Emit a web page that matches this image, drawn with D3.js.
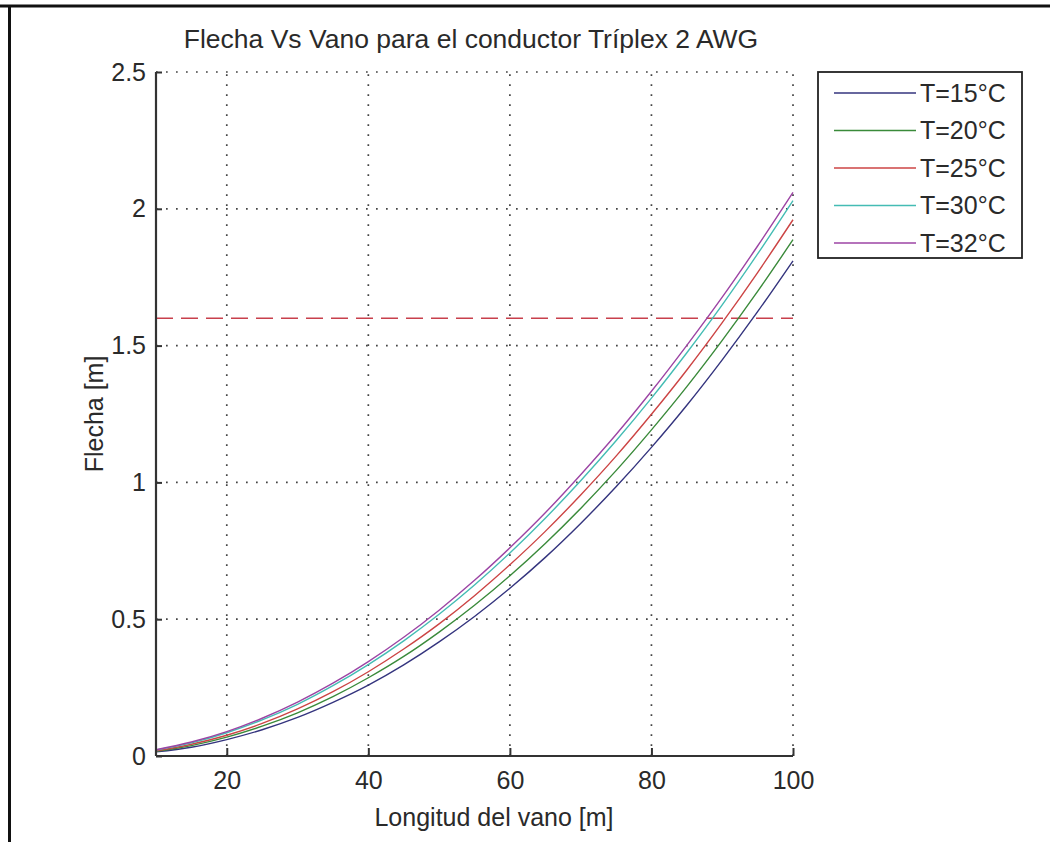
<!DOCTYPE html>
<html>
<head>
<meta charset="utf-8">
<script src="https://cdn.jsdelivr.net/npm/d3@7"></script>
<style>
  html, body { margin: 0; padding: 0; background: #fff; }
  svg { display: block; }
  text { font-family: "Liberation Sans", Arial, sans-serif; fill: #2a2a2a; }
</style>
</head>
<body>
<svg id="chart" width="1050" height="842"></svg>
<script>
// ---- data ----
const spans = [10, 15, 20, 25, 30, 35, 40, 45, 50, 55, 60, 65, 70, 75, 80, 85, 90, 95, 100];
const sagT15 = [0.015, 0.032, 0.060, 0.096, 0.141, 0.196, 0.259, 0.333, 0.417, 0.510, 0.613, 0.726, 0.850, 0.984, 1.128, 1.282, 1.448, 1.624, 1.810];
const sagT20 = [0.017, 0.038, 0.069, 0.109, 0.158, 0.217, 0.286, 0.364, 0.453, 0.551, 0.659, 0.777, 0.905, 1.043, 1.192, 1.350, 1.519, 1.698, 1.887];
const sagT25 = [0.019, 0.043, 0.076, 0.119, 0.172, 0.235, 0.308, 0.391, 0.483, 0.586, 0.699, 0.821, 0.954, 1.096, 1.249, 1.411, 1.584, 1.767, 1.960];
const sagT30 = [0.022, 0.048, 0.085, 0.132, 0.189, 0.257, 0.334, 0.421, 0.518, 0.625, 0.742, 0.869, 1.006, 1.152, 1.308, 1.474, 1.649, 1.835, 2.030];
const sagT32 = [0.023, 0.051, 0.089, 0.138, 0.197, 0.266, 0.345, 0.434, 0.533, 0.642, 0.761, 0.889, 1.028, 1.175, 1.333, 1.501, 1.677, 1.864, 2.060];
const seriesNames = ["T=15°C", "T=20°C", "T=25°C", "T=30°C", "T=32°C"];
const seriesColors = ["#34347e", "#3a8a3a", "#cc4444", "#44bcb4", "#9c44a4"];
const limitSag = 1.6;
const xTicks = [20, 40, 60, 80, 100];
const yTicks = [0, 0.5, 1, 1.5, 2, 2.5];
const titleText = "Flecha Vs Vano para el conductor Tríplex 2 AWG";
const xLabelText = "Longitud del vano [m]";
const yLabelText = "Flecha [m]";

const allSeries = [sagT15, sagT20, sagT25, sagT30, sagT32];

// ---- layout ----
const svg = d3.select("#chart");
const plot = { left: 156, right: 793, top: 72, bottom: 756 };

const x = d3.scaleLinear().domain([10, 100]).range([plot.left, plot.right]);
const y = d3.scaleLinear().domain([0, 2.5]).range([plot.bottom, plot.top]);

// outer frame (top and left edges of the screenshot)
svg.append("line").attr("x1", 0).attr("x2", 1050).attr("y1", 6).attr("y2", 6)
  .attr("stroke", "#111").attr("stroke-width", 3);
svg.append("line").attr("x1", 9.5).attr("x2", 9.5).attr("y1", 5).attr("y2", 842)
  .attr("stroke", "#111").attr("stroke-width", 3);

// grid (dotted)
const gridStyle = g => g.attr("stroke", "#444").attr("stroke-width", 1.7).attr("stroke-dasharray", "1.7,8.3");
svg.append("g").selectAll("line").data(xTicks).join("line")
  .attr("x1", d => x(d)).attr("x2", d => x(d)).attr("y1", plot.bottom).attr("y2", plot.top)
  .call(gridStyle);
svg.append("g").selectAll("line").data(yTicks.filter(d => d > 0)).join("line")
  .attr("x1", plot.left).attr("x2", plot.right).attr("y1", d => y(d)).attr("y2", d => y(d))
  .call(gridStyle);

// limit line
svg.append("line")
  .attr("x1", x(10)).attr("x2", x(100)).attr("y1", y(limitSag)).attr("y2", y(limitSag))
  .attr("stroke", "#c8404c").attr("stroke-width", 1.7).attr("stroke-dasharray", "17,8");

// curves
const line = d3.line().x((d, i) => x(spans[i])).y(d => y(d)).curve(d3.curveMonotoneX);
svg.append("g").selectAll("path").data(allSeries).join("path")
  .attr("d", d => line(d))
  .attr("fill", "none")
  .attr("stroke", (d, i) => seriesColors[i])
  .attr("stroke-width", 1.4);

// axes (left and bottom solid, ticks inward)
const xAxis = d3.axisBottom(x).tickValues(xTicks).tickSize(-8).tickPadding(15).tickFormat(d3.format("d"));
const yAxis = d3.axisLeft(y).tickValues(yTicks).tickSize(-6).tickPadding(10).tickFormat(d => String(d));

const gx = svg.append("g").attr("transform", `translate(0,${plot.bottom})`).call(xAxis);
const gy = svg.append("g").attr("transform", `translate(${plot.left},0)`).call(yAxis);
[gx, gy].forEach(g => {
  g.select(".domain").attr("stroke", "#333").attr("stroke-width", 2.2);
  g.selectAll(".tick line").attr("stroke", "#333").attr("stroke-width", 2);
  g.selectAll(".tick text").attr("font-size", 25).attr("fill", "#2a2a2a")
    .attr("font-family", "'Liberation Sans', Arial, sans-serif");
});
gx.select(".domain").attr("d", `M${plot.left},0H${plot.right}`);
gy.select(".domain").attr("d", `M0,${plot.bottom}V${plot.top}`);

// title & labels
svg.append("text").attr("x", 471).attr("y", 48).attr("text-anchor", "middle")
  .attr("font-size", 26.5).text(titleText);
svg.append("text").attr("x", 494).attr("y", 826).attr("text-anchor", "middle")
  .attr("font-size", 25).text(xLabelText);
svg.append("text").attr("transform", "translate(103,414) rotate(-90)").attr("text-anchor", "middle")
  .attr("font-size", 25).text(yLabelText);

// legend
const leg = svg.append("g");
leg.append("rect").attr("x", 818).attr("y", 72).attr("width", 204).attr("height", 186)
  .attr("fill", "#fff").attr("stroke", "#222").attr("stroke-width", 1.8);
const rowY = d3.scalePoint().domain(seriesNames).range([93, 243]);
const items = leg.selectAll("g.item").data(seriesNames).join("g").attr("class", "item");
items.append("line").attr("x1", 834).attr("x2", 916)
  .attr("y1", d => rowY(d)).attr("y2", d => rowY(d))
  .attr("stroke", (d, i) => seriesColors[i]).attr("stroke-width", 1.6);
items.append("text").attr("x", 920).attr("y", d => rowY(d)).attr("dy", "0.35em")
  .attr("font-size", 25).text(d => d);
</script>
</body>
</html>
